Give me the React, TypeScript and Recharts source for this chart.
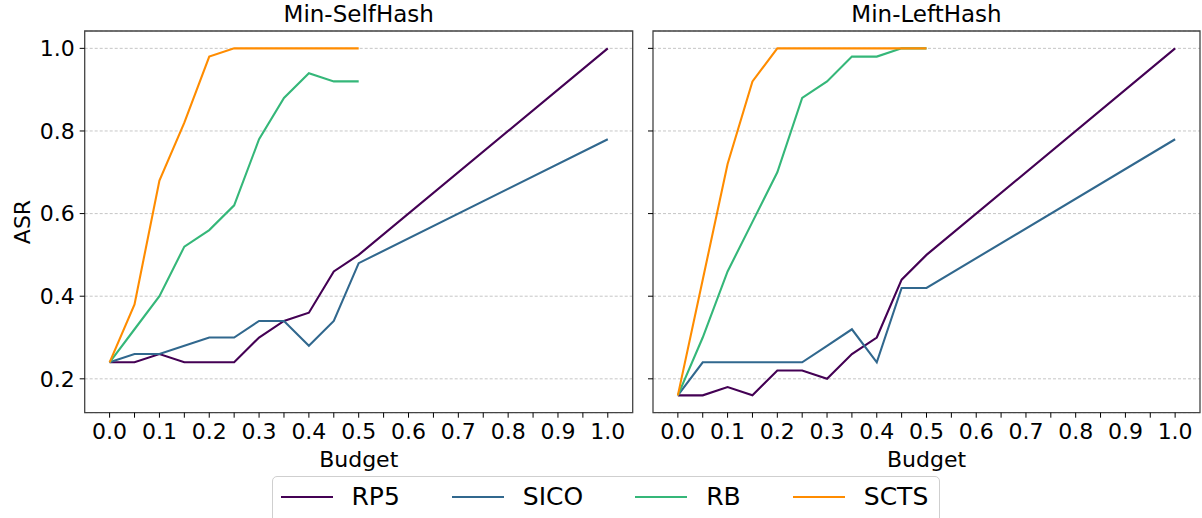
import React from "react";
import { LineChart, Line, XAxis, YAxis, CartesianGrid, ReferenceArea } from "recharts";

// ---------- data ----------
const budgetsFull = [0, 0.05, 0.1, 0.15, 0.2, 0.25, 0.3, 0.35, 0.4, 0.45, 0.5, 1.0];
const budgetsHalf = [0, 0.05, 0.1, 0.15, 0.2, 0.25, 0.3, 0.35, 0.4, 0.45, 0.5];

// Min-SelfHash
const rp5Self = [0.24, 0.24, 0.26, 0.24, 0.24, 0.24, 0.3, 0.34, 0.36, 0.46, 0.5, 1.0];
const sicoSelf = [0.24, 0.26, 0.26, 0.28, 0.3, 0.3, 0.34, 0.34, 0.28, 0.34, 0.48, 0.78];
const rbSelf = [0.24, 0.32, 0.4, 0.52, 0.56, 0.62, 0.78, 0.88, 0.94, 0.92, 0.92];
const sctsSelf = [0.24, 0.38, 0.68, 0.82, 0.98, 1.0, 1.0, 1.0, 1.0, 1.0, 1.0];

// Min-LeftHash
const rp5Left = [0.16, 0.16, 0.18, 0.16, 0.22, 0.22, 0.2, 0.26, 0.3, 0.44, 0.5, 1.0];
const sicoLeft = [0.16, 0.24, 0.24, 0.24, 0.24, 0.24, 0.28, 0.32, 0.24, 0.42, 0.42, 0.78];
const rbLeft = [0.16, 0.3, 0.46, 0.58, 0.7, 0.88, 0.92, 0.98, 0.98, 1.0, 1.0];
const sctsLeft = [0.16, 0.44, 0.72, 0.92, 1.0, 1.0, 1.0, 1.0, 1.0, 1.0, 1.0];

const seriesNames = ["RP5", "SICO", "RB", "SCTS"];
const seriesColors = ["#440154", "#31688e", "#35b779", "#ff8c00"];

const panelTitles = ["Min-SelfHash", "Min-LeftHash"];

const xTicks = [0, 0.05, 0.1, 0.15, 0.2, 0.25, 0.3, 0.35, 0.4, 0.45, 0.5, 0.55, 0.6, 0.65, 0.7, 0.75, 0.8, 0.85, 0.9, 0.95, 1.0];
const xTickLabels = ["0.0", "", "0.1", "", "0.2", "", "0.3", "", "0.4", "", "0.5", "", "0.6", "", "0.7", "", "0.8", "", "0.9", "", "1.0"];
const yTicks = [0.2, 0.4, 0.6, 0.8, 1.0];
const yTickLabels = ["0.2", "0.4", "0.6", "0.8", "1.0"];

const X_DOMAIN: [number, number] = [-0.05, 1.05];
const Y_DOMAIN: [number, number] = [0.118, 1.042];

const FONT = "DejaVu Sans";

const toPoints = (xs: number[], ys: number[]) => xs.map((x, i) => ({ x, y: ys[i] }));

const selfSeries = [
  toPoints(budgetsFull, rp5Self),
  toPoints(budgetsFull, sicoSelf),
  toPoints(budgetsHalf, rbSelf),
  toPoints(budgetsHalf, sctsSelf),
];
const leftSeries = [
  toPoints(budgetsFull, rp5Left),
  toPoints(budgetsFull, sicoLeft),
  toPoints(budgetsHalf, rbLeft),
  toPoints(budgetsHalf, sctsLeft),
];

type PanelProps = {
  width: number;
  height: number;
  margin: { top: number; right: number; bottom: number; left: number };
  yAxisWidth: number;
  showYLabels: boolean;
  series: { x: number; y: number }[][];
};

function Panel({ width, height, margin, yAxisWidth, showYLabels, series }: PanelProps) {
  return (
    <LineChart width={width} height={height} margin={margin}>
      <CartesianGrid
        vertical={false}
        horizontal={true}
        stroke="#b8b8b8"
        strokeDasharray="3 2"
        strokeWidth={0.8}
      />
      <XAxis
        type="number"
        dataKey="x"
        domain={X_DOMAIN}
        allowDataOverflow
        ticks={xTicks}
        interval={0}
        height={30}
        axisLine={false}
        tickLine={{ stroke: "#000", strokeWidth: 1 }}
        tickSize={5}
        tickMargin={6}
        tick={{ fill: "#000", fontSize: 22, fontFamily: FONT }}
        tickFormatter={(v: number) => xTickLabels[xTicks.indexOf(v)] ?? ""}
      />
      <YAxis
        type="number"
        domain={Y_DOMAIN}
        allowDataOverflow
        ticks={yTicks}
        interval={0}
        width={yAxisWidth}
        axisLine={false}
        tickLine={{ stroke: "#000", strokeWidth: 1 }}
        tickSize={5}
        tickMargin={5}
        tick={{ fill: "#000", fontSize: 22, fontFamily: FONT }}
        tickFormatter={(v: number) => (showYLabels ? yTickLabels[yTicks.indexOf(v)] ?? "" : "")}
      />
      <ReferenceArea
        x1={X_DOMAIN[0]}
        x2={X_DOMAIN[1]}
        y1={Y_DOMAIN[0]}
        y2={Y_DOMAIN[1]}
        fill="none"
        fillOpacity={0}
        stroke="#444"
        strokeWidth={1.3}
        ifOverflow="visible"
      />
      {series.map((pts, i) => (
        <Line
          key={seriesNames[i]}
          data={pts}
          dataKey="y"
          type="linear"
          stroke={seriesColors[i]}
          strokeWidth={2.1}
          dot={false}
          activeDot={false}
          isAnimationActive={false}
        />
      ))}
    </LineChart>
  );
}

export default function App() {
  return (
    <div
      style={{
        position: "absolute",
        left: 0,
        top: 0,
        width: 1202,
        height: 518,
        overflow: "hidden",
        background: "#fff",
        fontFamily: FONT,
      }}
    >
      <div style={{ position: "absolute", left: 0, top: 0 }}>
        <Panel
          width={640}
          height={450}
          margin={{ top: 31, right: 7.3, left: 24.7, bottom: 7.3 }}
          yAxisWidth={60}
          showYLabels={true}
          series={selfSeries}
        />
      </div>
      <div style={{ position: "absolute", left: 645, top: 0 }}>
        <Panel
          width={557}
          height={450}
          margin={{ top: 31, right: 2, left: 3, bottom: 7.3 }}
          yAxisWidth={5}
          showYLabels={false}
          series={leftSeries}
        />
      </div>
      <svg
        width={1202}
        height={518}
        style={{ position: "absolute", left: 0, top: 0, pointerEvents: "none" }}
      >
        <text x={358.7} y={22} textAnchor="middle" fontSize={23} fontFamily={FONT} fill="#000">
          {panelTitles[0]}
        </text>
        <text x={926.5} y={22} textAnchor="middle" fontSize={23} fontFamily={FONT} fill="#000">
          {panelTitles[1]}
        </text>
        <text x={358.7} y={467} textAnchor="middle" fontSize={22} fontFamily={FONT} fill="#000">
          Budget
        </text>
        <text x={926.5} y={467} textAnchor="middle" fontSize={22} fontFamily={FONT} fill="#000">
          Budget
        </text>
        <text
          x={30}
          y={222}
          textAnchor="middle"
          fontSize={22}
          fontFamily={FONT}
          fill="#000"
          transform="rotate(-90 30 222)"
        >
          ASR
        </text>
      </svg>
      <div
        style={{
          position: "absolute",
          left: 271.5,
          top: 476,
          width: 668,
          height: 70,
          boxSizing: "border-box",
          border: "1px solid #cfcfcf",
          borderRadius: 5,
          background: "#fff",
        }}
      >
        <div
          style={{
            position: "absolute",
            left: 8,
            top: 0,
            height: 40,
            display: "flex",
            alignItems: "center",
            gap: 52,
          }}
        >
          {seriesNames.map((name, i) => (
            <div key={name} style={{ display: "flex", alignItems: "center" }}>
              <div style={{ width: 52, height: 2.2, background: seriesColors[i], marginRight: 19 }} />
              <span style={{ fontSize: 25, fontFamily: FONT, color: "#000", lineHeight: "30px" }}>
                {name}
              </span>
            </div>
          ))}
        </div>
      </div>
    </div>
  );
}
